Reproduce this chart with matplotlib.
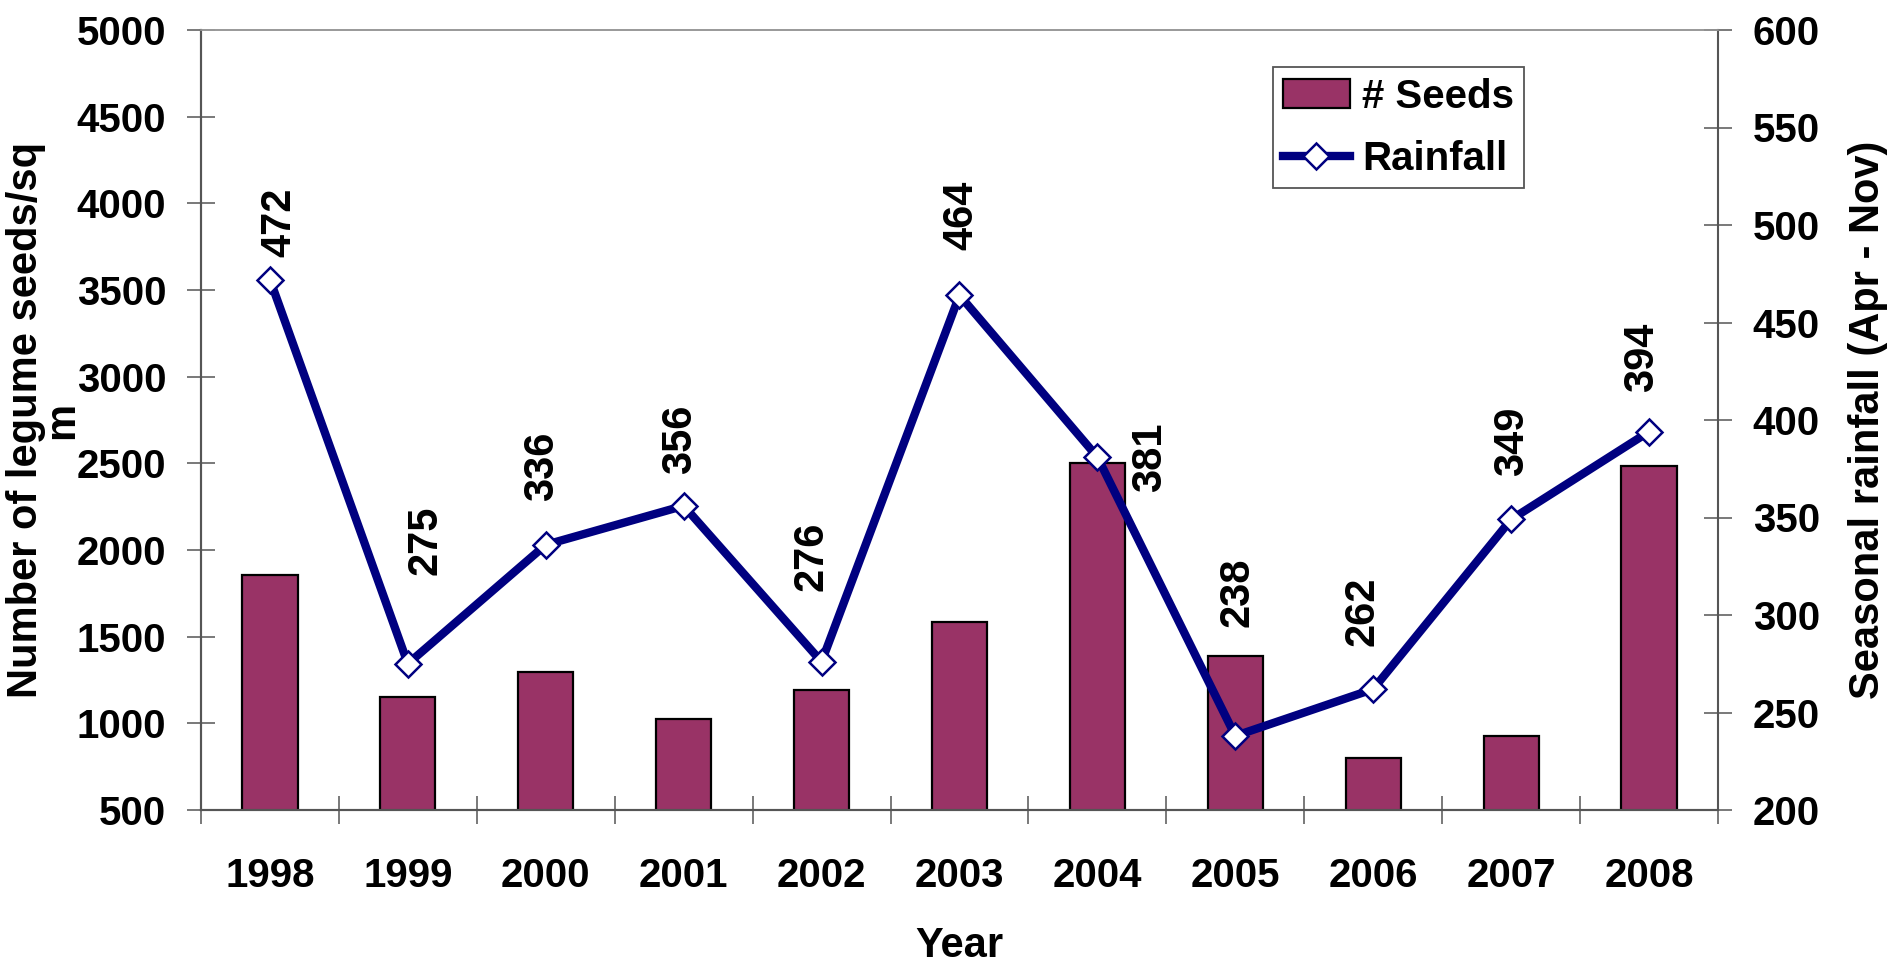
import matplotlib
matplotlib.use("Agg")
import matplotlib.pyplot as plt
import numpy as np
from matplotlib.lines import Line2D
from matplotlib.patches import Patch

years = ["1998", "1999", "2000", "2001", "2002", "2003", "2004", "2005", "2006", "2007", "2008"]
seeds = [1855, 1150, 1295, 1025, 1192, 1587, 2500, 1387, 798, 928, 2485]
rainfall = [472, 275, 336, 356, 276, 464, 381, 238, 262, 349, 394]

# label offsets from each rainfall point, in pixels (dx, dy)
label_dx = [9, 18, -4, -4, -10, 2, 53, 2, -11, 1, -7]
label_dy = [57, 123, 78, 66, 105, 80, 0, 144, 78, 78, 74]

BAR_COLOR = "#993366"
LINE_COLOR = "#000080"
AXIS_COLOR = "#555555"
TXT = "Liberation Sans"

fig = plt.figure(figsize=(18.9, 9.64), dpi=100)
ax = fig.add_axes([201 / 1890, 1 - 810 / 964, 1517 / 1890, 780 / 964])
ax2 = ax.twinx()

x = np.arange(len(years))
ax.bar(x, seeds, width=0.4, bottom=0, color=BAR_COLOR, edgecolor="black",
       linewidth=1.6, zorder=2)
ax.set_ylim(500, 5000)
ax.set_xlim(-0.5, len(years) - 0.5)

line_style = dict(color=LINE_COLOR, linewidth=6, marker="D", markersize=13,
                  markerfacecolor="white", markeredgecolor=LINE_COLOR,
                  markeredgewidth=1.8)
ax2.plot(x, rainfall, zorder=3, **line_style)
ax2.set_ylim(200, 600)

for i, r in enumerate(rainfall):
    ax2.annotate(str(r), xy=(i, r), xytext=(label_dx[i], label_dy[i]),
                 textcoords="offset pixels", rotation=90, ha="center", va="center",
                 fontsize=30, fontweight="bold", family=TXT, color="black")

# y ticks
ax.set_yticks(np.arange(500, 5001, 500))
ax2.set_yticks(np.arange(200, 601, 50))
for a in (ax, ax2):
    a.tick_params(axis="y", direction="inout", length=20, width=1.1, color=AXIS_COLOR,
                  pad=15, labelsize=29)
    for lab in a.get_yticklabels():
        lab.set_fontfamily(TXT)
        lab.set_fontweight("bold")

# x ticks: marks between categories, labels at centers
ax.set_xticks(np.arange(-0.5, len(years), 1.0))
ax.set_xticklabels([])
ax.set_xticks(x, minor=True)
ax.set_xticklabels(years, minor=True, fontsize=29, fontweight="bold", family=TXT)
ax.tick_params(axis="x", which="major", direction="inout", length=20, width=1.1,
               color=AXIS_COLOR)
ax.tick_params(axis="x", which="minor", length=0, pad=34)

for a in (ax, ax2):
    for s in ("left", "right", "bottom"):
        a.spines[s].set_color(AXIS_COLOR)
        a.spines[s].set_linewidth(1.5)
    a.spines["top"].set_color("#999999")
    a.spines["top"].set_linewidth(1.2)
ax.spines["right"].set_visible(False)

ax.set_xlabel("Year", fontsize=30, fontweight="bold", family=TXT, labelpad=22)
ax.set_ylabel("Number of legume seeds/sq\nm", fontsize=30, fontweight="bold",
              family=TXT, labelpad=-4, linespacing=0.88)
ax2.set_ylabel("Seasonal rainfall (Apr - Nov)", fontsize=30, fontweight="bold",
               family=TXT, rotation=90, labelpad=20)

handles = [
    Patch(facecolor=BAR_COLOR, edgecolor="black", linewidth=1.6),
    Line2D([0], [0], **line_style),
]
leg = ax2.legend(handles, ["# Seeds", "Rainfall"], loc="upper right",
                 bbox_to_anchor=(0.872, 0.952), borderaxespad=0, fancybox=False,
                 framealpha=1, edgecolor=AXIS_COLOR, handlelength=1.65,
                 handleheight=0.7, prop={"family": TXT, "weight": "bold", "size": 29},
                 borderpad=0.25, labelspacing=0.6, handletextpad=0.3)
leg.get_frame().set_linewidth(1.3)

fig.savefig("out.png", dpi=100)
